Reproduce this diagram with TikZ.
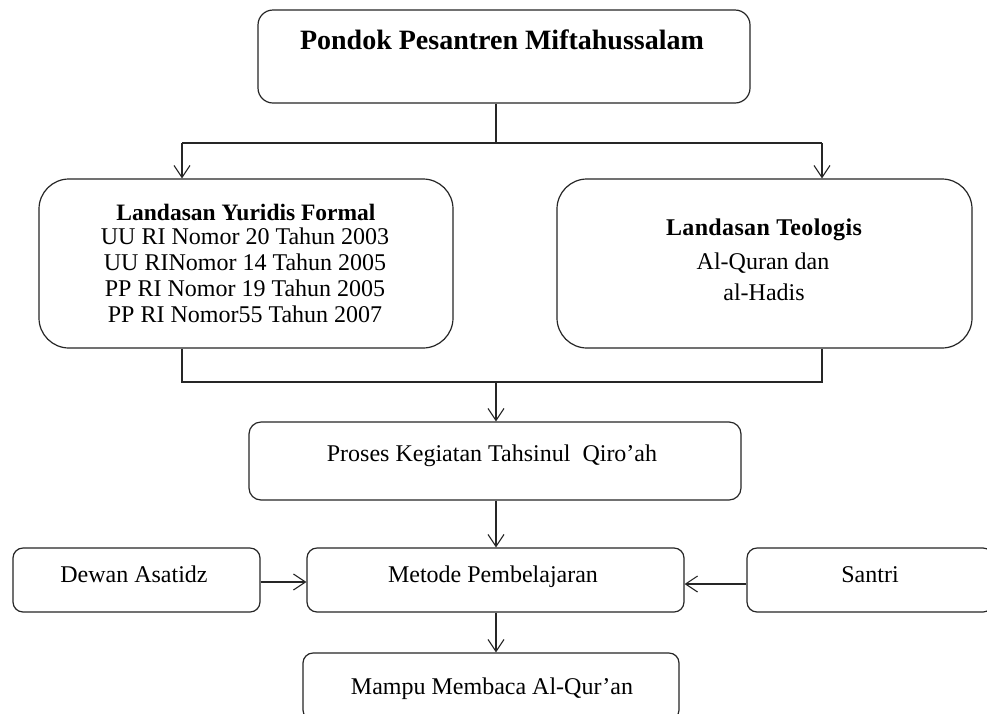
\documentclass[tikz,border=0pt]{standalone}
\usepackage{fontspec}
\setmainfont{Liberation Serif}
\usetikzlibrary{arrows.meta}
\tikzset{
  box/.style={draw=black!85, line width=1.2pt, rounded corners=#1, inner sep=0pt, fill=white},
  txt/.style={anchor=base, inner sep=0pt, font=\fontsize{24}{26}\selectfont},
  btxt/.style={anchor=base, inner sep=0pt, font=\bfseries\fontsize{24}{26}\selectfont},
  conn/.style={draw=black!85, line width=1.1pt},
  arr/.style={conn, -{Straight Barb[length=12pt,width=16pt,line width=1.1pt]}}
}
\begin{document}
\begin{tikzpicture}[x=1pt,y=-1pt]
\path[use as bounding box, clip] (0,0) rectangle (987,713);
\fill[white] (0,0) rectangle (987,713);

% boxes
\node[box=15pt, minimum width=492pt, minimum height=93pt] (top) at (504,56.5) {};
\node[box=30pt, minimum width=414pt, minimum height=169pt] (left) at (246,263.5) {};
\node[box=30pt, minimum width=415pt, minimum height=169pt] (right) at (764.5,263.5) {};
\node[box=12pt, minimum width=492pt, minimum height=78pt] (proses) at (495,461) {};
\node[box=10pt, minimum width=377pt, minimum height=64pt] (metode) at (495.5,580) {};
\node[box=10pt, minimum width=247pt, minimum height=64pt] (dewan) at (136.5,580) {};
\node[box=10pt, minimum width=246pt, minimum height=64pt] (santri) at (870,580) {};
\node[box=10pt, minimum width=376pt, minimum height=67pt] (mampu) at (491,686.5) {};

% texts
\node[anchor=base, inner sep=0pt, font=\bfseries\fontsize{28}{30}\selectfont] (t1) at (502,49) {Pondok Pesantren Miftahussalam};
\node[btxt, font=\bfseries\fontsize{23.5}{26}\selectfont] (l0) at (246,220) {Landasan Yuridis Formal};
\node[txt] (l1) at (245,244) {UU RI Nomor 20 Tahun 2003};
\node[txt] (l2) at (245,270) {UU RINomor 14 Tahun 2005};
\node[txt] (l3) at (245,296) {PP RI Nomor 19 Tahun 2005};
\node[txt] (l4) at (245,322) {PP RI Nomor55 Tahun 2007};
\node[btxt] (r0) at (764,235) {\addfontfeature{LetterSpace=1.5}Landasan Teologis};
\node[txt] (r1) at (763,269) {Al-Quran dan};
\node[txt] (r2) at (764,300) {al-Hadis};
\node[txt] (p1) at (492,461) {Proses Kegiatan Tahsinul\ \ Qiro’ah};
\node[txt] (m1) at (493,582) {Metode Pembelajaran};
\node[txt] (d1) at (134,582) {Dewan Asatidz};
\node[txt] (s1) at (870,582) {Santri};
\node[txt] (a1) at (492,694) {Mampu Membaca Al-Qur’an};

% connectors
\coordinate (j1) at (496,143);
\coordinate (la) at (182,143);
\coordinate (ra) at (822,143);
\coordinate (lb) at (182,382);
\coordinate (rb) at (822,382);
\coordinate (mb) at (496,382);
\coordinate (dy) at (0,582);
\coordinate (sy) at (0,584);
\coordinate (cx) at (496,0);

\draw[conn] (top.south -| j1) -- (j1);
\draw[conn] (la) -- (ra);
\draw[arr] (la) -- (la |- left.north);
\draw[arr] (ra) -- (ra |- right.north);
\draw[conn] (left.south -| lb) -- (lb) -- (rb) -- (right.south -| rb);
\draw[arr] (mb) -- (proses.north -| mb);
\draw[arr] (proses.south -| cx) -- (metode.north -| cx);
\draw[arr] (dewan.east |- dy) -- (metode.west |- dy);
\draw[arr] (santri.west |- sy) -- (metode.east |- sy);
\draw[arr] (metode.south -| cx) -- (mampu.north -| cx);
\end{tikzpicture}
\end{document}
